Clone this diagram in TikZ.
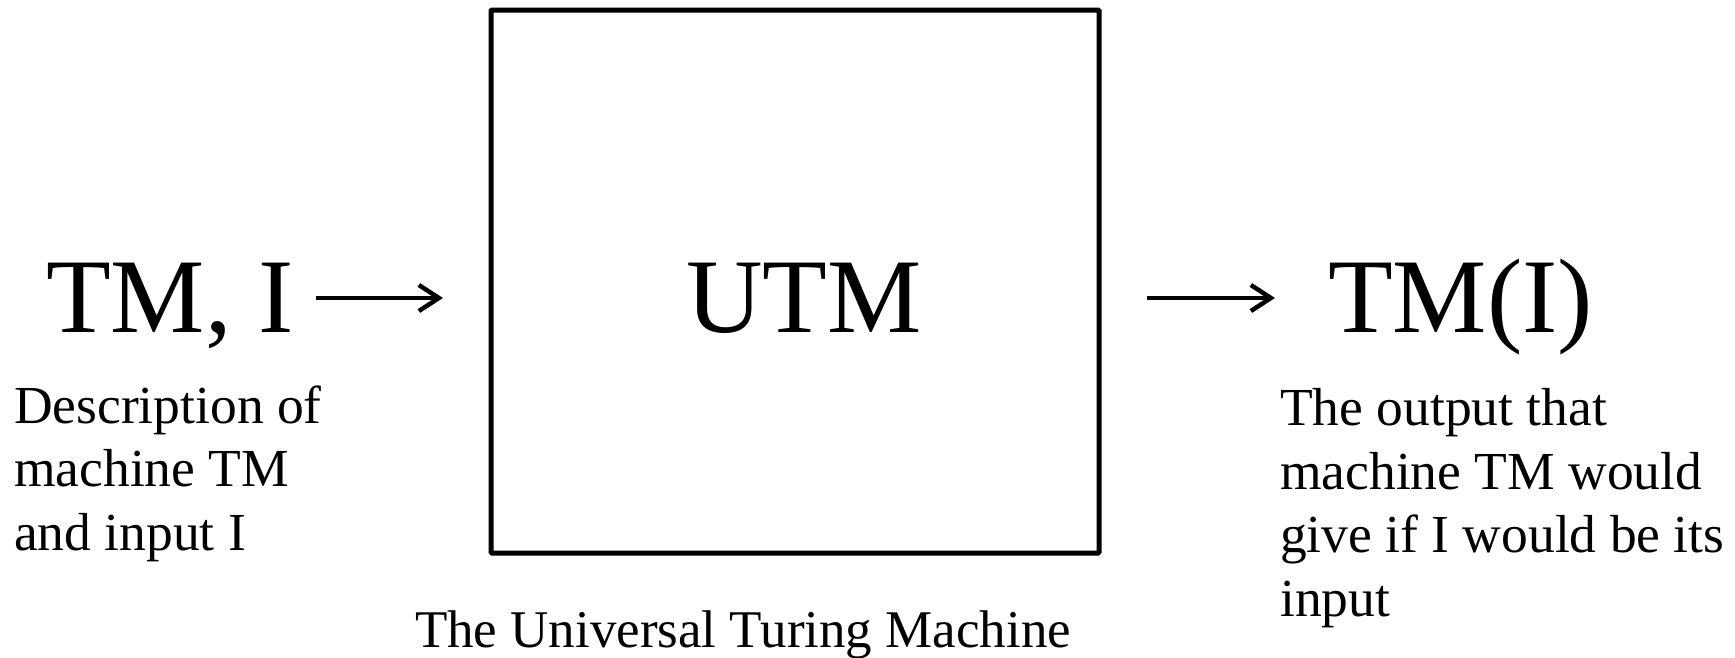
\documentclass[tikz,border=0pt]{standalone}
\usepackage{fontspec}
\setmainfont{Liberation Serif}
\usetikzlibrary{arrows.meta}
\begin{document}
\begin{tikzpicture}[x=1pt,y=-1pt,
  big/.style={font=\fontsize{106}{120}\selectfont, inner sep=0pt},
  note/.style={font=\fontsize{53.5}{63.5}\selectfont, inner sep=0pt, align=left},
  flow/.style={line width=4.5pt, -{Straight Barb[length=20pt,width=26pt,line width=4.5pt]}},
  machine/.style={draw, line width=5pt, rounded corners=1pt, minimum width=608pt, minimum height=543pt, inner sep=0pt}]
  \useasboundingbox (0,0) rectangle (1735,657);

  % the universal machine
  \node[machine] (utm) at (795,281.5) {};
  \node[big, anchor=base] (utmlabel) at (804,332) {UTM};
  \node[font=\fontsize{53}{60}\selectfont, inner sep=0pt, anchor=base] (caption) at (743,647) {The Universal Turing Machine};

  % input side (multi-line nodes sit on the baseline of their last line)
  \node[big, anchor=base west] (tmi) at (46,332) {TM, I};
  \node[note, anchor=base west] (desc) at (14,550) {Description of\\machine TM\\and input I};

  % output side
  \node[big, anchor=base west] (tmo) at (1328,332) {TM(I)};
  \node[note, anchor=base west] (outdesc) at (1280,616) {The output that\\machine TM would\\give if I would be its\\input};

  % connectors
  \coordinate (inA) at (316,298);
  \coordinate (inB) at (443,298);
  \coordinate (outA) at (1147,298);
  \coordinate (outB) at (1275,298);
  \draw[flow] (inA) -- (inB);
  \draw[flow] (outA) -- (outB);
\end{tikzpicture}
\end{document}
